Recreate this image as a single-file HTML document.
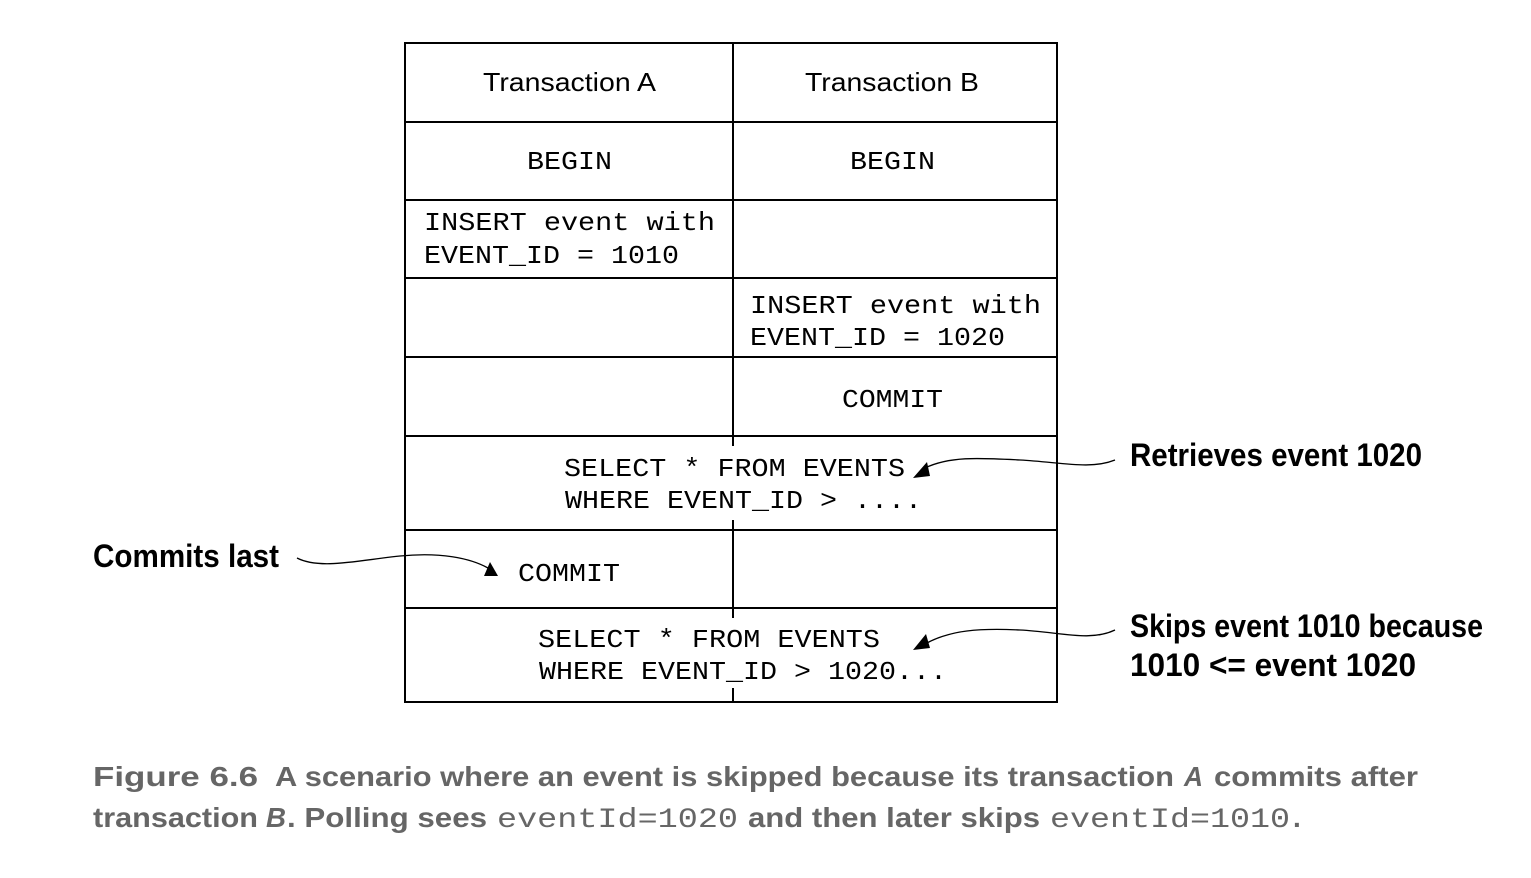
<!DOCTYPE html>
<html><head><meta charset="utf-8"><style>html,body{margin:0;padding:0;background:#fff}svg{display:block}</style></head>
<body>
<svg width="1531" height="878" viewBox="0 0 1531 878" xmlns="http://www.w3.org/2000/svg">
<g stroke="#000" stroke-width="2" fill="none">
<rect x="405" y="43" width="652" height="659"/>
<line x1="405" y1="122" x2="1057" y2="122"/>
<line x1="405" y1="200" x2="1057" y2="200"/>
<line x1="405" y1="278" x2="1057" y2="278"/>
<line x1="405" y1="357" x2="1057" y2="357"/>
<line x1="405" y1="436" x2="1057" y2="436"/>
<line x1="405" y1="530" x2="1057" y2="530"/>
<line x1="405" y1="608" x2="1057" y2="608"/>
<line x1="733" y1="43" x2="733" y2="446"/>
<line x1="733" y1="520" x2="733" y2="618"/>
<line x1="733" y1="688" x2="733" y2="702"/>
<path d="M1115 460 C1090 470 1060 462 1020 460 C980 458 950 456 925 468" stroke-width="1.3"/>
<path d="M297 558 C320 570 360 560 400 556 C440 552 470 558 488 568" stroke-width="1.3"/>
<path d="M1115 630 C1090 642 1060 632 1020 630 C980 628 950 630 925 644" stroke-width="1.3"/>
</g>
<polygon points="913,478 927,462 930,476" fill="#000"/>
<polygon points="498,576 484,576 490,562" fill="#000"/>
<polygon points="913,650 926,634 930,648" fill="#000"/>
<g font-family="Liberation Sans, sans-serif" font-size="26" fill="#000">
<text x="483" y="91" textLength="173" lengthAdjust="spacingAndGlyphs">Transaction A</text>
<text x="805" y="91" textLength="174" lengthAdjust="spacingAndGlyphs">Transaction B</text>
</g>
<g font-family="Liberation Mono, monospace" font-size="26" fill="#000">
<text x="527" y="169" textLength="85" lengthAdjust="spacingAndGlyphs">BEGIN</text>
<text x="850" y="169" textLength="85" lengthAdjust="spacingAndGlyphs">BEGIN</text>
<text x="424" y="230" textLength="291" lengthAdjust="spacingAndGlyphs">INSERT event with</text>
<text x="424" y="263" textLength="255" lengthAdjust="spacingAndGlyphs">EVENT_ID = 1010</text>
<text x="750" y="313" textLength="291" lengthAdjust="spacingAndGlyphs">INSERT event with</text>
<text x="750" y="345" textLength="255" lengthAdjust="spacingAndGlyphs">EVENT_ID = 1020</text>
<text x="842" y="407" textLength="101" lengthAdjust="spacingAndGlyphs">COMMIT</text>
<text x="564" y="476" textLength="341" lengthAdjust="spacingAndGlyphs">SELECT * FROM EVENTS</text>
<text x="565" y="508" textLength="357" lengthAdjust="spacingAndGlyphs">WHERE EVENT_ID &gt; ....</text>
<text x="518" y="581" textLength="102" lengthAdjust="spacingAndGlyphs">COMMIT</text>
<text x="538" y="647" textLength="342" lengthAdjust="spacingAndGlyphs">SELECT * FROM EVENTS</text>
<text x="539" y="679" textLength="408" lengthAdjust="spacingAndGlyphs">WHERE EVENT_ID &gt; 1020...</text>
</g>
<g font-family="Liberation Sans, sans-serif" font-weight="bold" font-size="32" fill="#000">
<text x="1130" y="466" textLength="292" lengthAdjust="spacingAndGlyphs">Retrieves event 1020</text>
<text x="93" y="567" textLength="186" lengthAdjust="spacingAndGlyphs">Commits last</text>
<text x="1130" y="637" textLength="353" lengthAdjust="spacingAndGlyphs">Skips event 1010 because</text>
<text x="1130" y="676" textLength="286" lengthAdjust="spacingAndGlyphs">1010 &lt;= event 1020</text>
</g>
<g font-family="Liberation Sans, sans-serif" font-weight="bold" font-size="28" fill="#666">
<text x="93" y="786" textLength="165" lengthAdjust="spacingAndGlyphs">Figure 6.6</text>
<text x="275" y="786" textLength="899" lengthAdjust="spacingAndGlyphs">A scenario where an event is skipped because its transaction</text>
<text x="1184" y="786" font-style="italic" textLength="19" lengthAdjust="spacingAndGlyphs">A</text>
<text x="1214" y="786" textLength="204" lengthAdjust="spacingAndGlyphs">commits after</text>
<text x="93" y="827" textLength="165" lengthAdjust="spacingAndGlyphs">transaction</text>
<text x="266" y="827" font-style="italic" textLength="20" lengthAdjust="spacingAndGlyphs">B</text>
<text x="287" y="827" textLength="200" lengthAdjust="spacingAndGlyphs">. Polling sees</text>
<text x="497" y="827" font-family="Liberation Mono, monospace" font-weight="normal" textLength="241" lengthAdjust="spacingAndGlyphs">eventId=1020</text>
<text x="748" y="827" textLength="292" lengthAdjust="spacingAndGlyphs">and then later skips</text>
<text x="1050" y="827" font-family="Liberation Mono, monospace" font-weight="normal" textLength="240" lengthAdjust="spacingAndGlyphs">eventId=1010</text>
<text x="1293" y="827">.</text>
</g>
</svg>
</body></html>
